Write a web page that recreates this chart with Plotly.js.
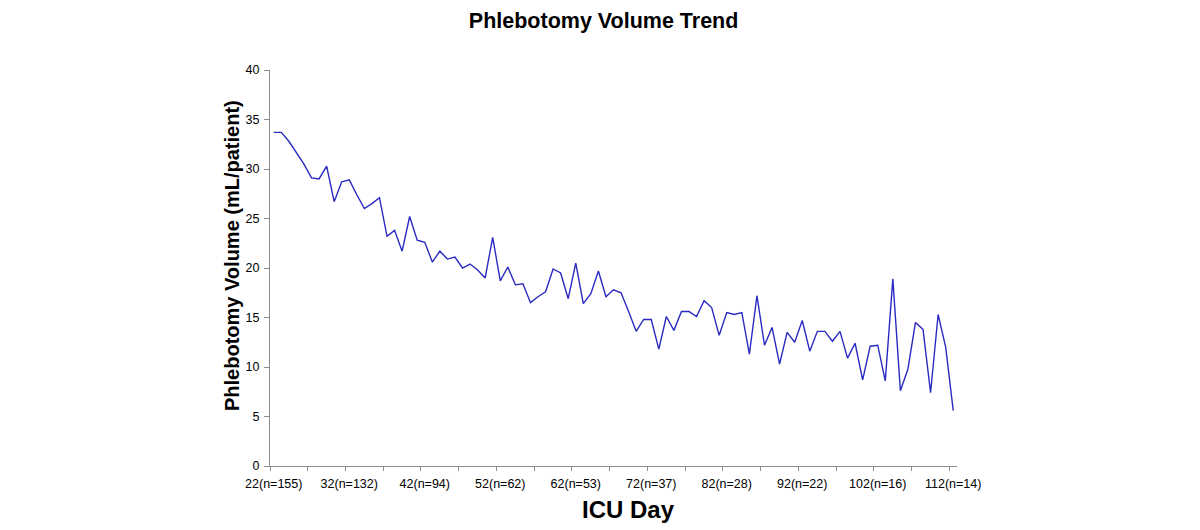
<!DOCTYPE html>
<html>
<head>
<meta charset="utf-8">
<script src="https://cdn.plot.ly/plotly-3.0.1.min.js"></script>
<style>html,body{margin:0;padding:0;background:#fff;}#chart{width:1200px;height:530px;}</style>
</head>
<body>
<div id="chart"></div>
<script>
// ICU days 22..112
const days = [];
for (let d = 22; d <= 112; d++) days.push(d);

const volume = [
  33.7, 33.7, 32.8, 31.6, 30.5, 29.1, 29.0, 30.3, 26.7, 28.7,
  28.9, 27.4, 26.0, 26.5, 27.1, 23.2, 23.8, 21.7, 25.2, 22.8,
  22.6, 20.6, 21.7, 20.9, 21.1, 20.0, 20.4, 19.8, 19.0, 23.1,
  18.7, 20.1, 18.3, 18.4, 16.5, 17.1, 17.6, 19.9, 19.5, 16.9,
  20.5, 16.4, 17.4, 19.7, 17.1, 17.8, 17.5, 15.6, 13.6, 14.8,
  14.8, 11.8, 15.1, 13.7, 15.6, 15.6, 15.1, 16.7, 16.0, 13.2,
  15.5, 15.3, 15.5, 11.3, 17.2, 12.2, 14.0, 10.3, 13.5, 12.5,
  14.7, 11.6, 13.6, 13.6, 12.6, 13.6, 10.9, 12.4, 8.7, 12.1,
  12.2, 8.6, 18.9, 7.6, 9.8, 14.5, 13.8, 7.4, 15.3, 12.0,
  5.6
];

const labelDays = [22, 32, 42, 52, 62, 72, 82, 92, 102, 112];
const labelN = [155, 132, 94, 62, 53, 37, 28, 22, 16, 14];
const tickLabels = labelDays.map((d, i) => d + '(n=' + labelN[i] + ')');
const yTicks = [0, 5, 10, 15, 20, 25, 30, 35, 40];

// category boundary tick marks every 5 days
const boundaryTicks = [];
for (let b = 21.5; b <= 112.5; b += 5) boundaryTicks.push(b);

const font = 'Liberation Sans, Arial, sans-serif';

const trace = {
  x: days,
  y: volume,
  type: 'scatter',
  mode: 'lines',
  line: {color: '#2a2ac2', width: 1.4},
  hoverinfo: 'x+y',
  showlegend: false
};

const layout = {
  width: 1200,
  height: 530,
  paper_bgcolor: '#ffffff',
  plot_bgcolor: '#ffffff',
  margin: {l: 270, r: 243, t: 70, b: 64},
  font: {family: font, color: '#000'},
  title: {
    text: '<b>Phlebotomy Volume Trend</b>',
    font: {family: font, size: 21.5, color: '#000'},
    x: 0.503, xref: 'container', xanchor: 'center',
    y: 0.962, yref: 'container', yanchor: 'middle'
  },
  xaxis: {
    range: [21.5, 112.5],
    tickmode: 'array',
    tickvals: boundaryTicks,
    ticktext: boundaryTicks.map(() => ''),
    showticklabels: false,
    ticks: 'outside',
    ticklen: 4,
    tickcolor: '#8c8c8c',
    showline: true,
    linecolor: '#8c8c8c',
    linewidth: 1,
    showgrid: false,
    zeroline: false,
    fixedrange: true
  },
  xaxis2: {
    overlaying: 'x',
    anchor: 'y',
    side: 'bottom',
    range: [21.5, 112.5],
    tickmode: 'array',
    tickvals: labelDays,
    ticktext: tickLabels,
    ticks: '',
    ticklabelstandoff: 8,
    showline: false,
    showgrid: false,
    zeroline: false,
    tickfont: {family: font, size: 12.5, color: '#000'},
    fixedrange: true
  },
  yaxis: {
    range: [0, 40],
    tickmode: 'array',
    tickvals: yTicks,
    ticks: 'outside',
    ticklen: 5,
    tickcolor: '#8c8c8c',
    showline: true,
    linecolor: '#8c8c8c',
    linewidth: 1,
    showgrid: false,
    zeroline: false,
    ticklabelstandoff: 2,
    tickfont: {family: font, size: 12.5, color: '#000'},
    fixedrange: true
  },
  annotations: [
    {
      text: '<b>ICU Day</b>',
      xref: 'paper', yref: 'paper',
      x: (628 - 270) / 687, y: -0.11,
      xanchor: 'center', yanchor: 'middle',
      showarrow: false,
      font: {family: font, size: 24, color: '#000'}
    },
    {
      text: '<b>Phlebotomy Volume (mL/patient)</b>',
      xref: 'paper', yref: 'paper',
      x: (232 - 270) / 687, y: (466 - 256) / 396,
      xanchor: 'center', yanchor: 'middle',
      textangle: -90,
      showarrow: false,
      font: {family: font, size: 20, color: '#000'}
    }
  ]
};

const trace2 = {x: [labelDays[0]], y: [null], xaxis: 'x2', yaxis: 'y', type: 'scatter', mode: 'lines', showlegend: false, hoverinfo: 'skip'};

Plotly.newPlot('chart', [trace, trace2], layout, {displayModeBar: false, staticPlot: true});
</script>
</body>
</html>
